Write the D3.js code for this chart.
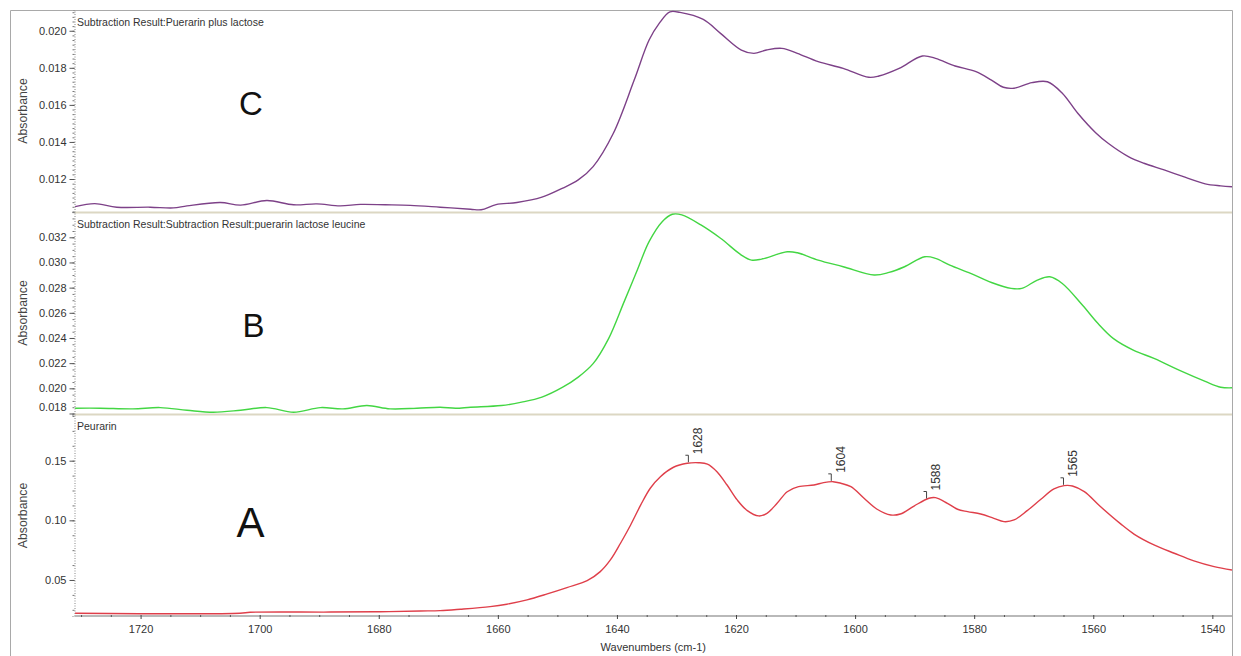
<!DOCTYPE html>
<html><head><meta charset="utf-8">
<script src="https://cdn.jsdelivr.net/npm/d3@7"></script>
<style>
body{margin:0;background:#fff;}
text{font-family:"Liberation Sans",Arial,Helvetica,sans-serif;}
</style>
</head><body>
<svg id="chart" width="1241" height="656"></svg>
<script>
// ---------- data ----------
const xTicks = [1720,1700,1680,1660,1640,1620,1600,1580,1560,1540];
const cTicks = [0.012,0.014,0.016,0.018,0.020];
const bTicks = [0.018,0.020,0.022,0.024,0.026,0.028,0.030,0.032];
const aTicks = [0.05,0.10,0.15];
const peakLabels = [1628,1604,1588,1565];

const cWave = [1731.0,1727.7,1724.0,1718.4,1714.5,1712.2,1706.6,1703.2,1698.8,1694.3,1690.4,1686.5,1683.1,1678.9,1674.7,1669.7,1664.6,1662.8,1660.3,1656.8,1652.6,1649.1,1646.5,1644.0,1640.6,1637.1,1634.6,1632.9,1631.1,1629.4,1625.5,1622.6,1619.1,1617.0,1614.9,1612.3,1609.7,1606.2,1602.0,1597.7,1596.0,1592.6,1588.7,1586.5,1583.2,1579.7,1577.1,1575.1,1573.3,1570.3,1567.7,1565.2,1562.6,1559.6,1557.5,1554.1,1551.5,1548.1,1544.6,1541.2,1538.6,1536.7];
const cAbs = [0.01051,0.01067,0.01048,0.01048,0.01044,0.01055,0.01073,0.01059,0.01084,0.01061,0.01066,0.01055,0.01063,0.01061,0.01058,0.01048,0.01037,0.01034,0.01062,0.01073,0.01102,0.01151,0.01195,0.01267,0.01447,0.01734,0.0195,0.0204,0.02102,0.02099,0.02061,0.01986,0.01896,0.01878,0.01896,0.01905,0.01878,0.01833,0.01797,0.01749,0.01756,0.01797,0.01864,0.01851,0.0181,0.01779,0.01734,0.01695,0.0169,0.0172,0.01725,0.01663,0.01555,0.0145,0.01393,0.01321,0.01285,0.01249,0.0121,0.01174,0.01163,0.01158];

const bWave = [1731.0,1726.8,1721.3,1716.7,1712.2,1707.8,1703.2,1698.8,1694.3,1689.8,1686.0,1682.0,1678.1,1673.6,1669.7,1667.1,1664.6,1659.4,1656.0,1652.6,1649.1,1646.5,1644.0,1641.4,1638.8,1636.7,1634.6,1632.4,1630.7,1629.1,1625.9,1622.6,1619.1,1617.4,1615.7,1611.4,1609.7,1606.2,1602.0,1596.8,1594.3,1591.7,1588.3,1586.5,1584.1,1580.6,1577.1,1573.8,1572.0,1569.4,1567.3,1565.2,1561.8,1559.2,1556.6,1553.2,1549.7,1545.5,1541.2,1538.6,1536.7];
const bAbs = [0.01842,0.01842,0.01837,0.01847,0.01826,0.0181,0.01826,0.01847,0.0181,0.01847,0.01837,0.01863,0.01837,0.01842,0.0185,0.01842,0.0185,0.01863,0.0189,0.0193,0.02009,0.02089,0.02196,0.02395,0.02687,0.02926,0.03165,0.03324,0.03383,0.03378,0.03298,0.03192,0.03059,0.03019,0.03027,0.03085,0.03077,0.03019,0.02966,0.029,0.02921,0.02966,0.03045,0.03033,0.02979,0.02913,0.02841,0.02794,0.02794,0.0286,0.02886,0.02833,0.0266,0.02515,0.02395,0.02302,0.02236,0.02142,0.02055,0.02009,0.02004];

const aWave = [1731.0,1703.3,1701.6,1688.1,1679.8,1673.0,1669.7,1666.3,1661.3,1658.5,1655.1,1651.7,1648.4,1645.0,1642.8,1641.1,1639.4,1637.7,1636.0,1634.4,1632.7,1630.5,1628.2,1626.3,1624.8,1623.2,1621.5,1619.8,1618.1,1616.2,1614.8,1613.1,1611.4,1609.5,1606.9,1605.3,1603.7,1602.4,1600.7,1598.5,1596.3,1594.0,1592.4,1590.1,1587.6,1586.5,1584.5,1582.8,1581.1,1578.9,1576.7,1575.0,1573.3,1571.1,1568.8,1566.6,1564.9,1563.5,1561.5,1558.9,1555.4,1553.1,1549.8,1546.4,1543.1,1539.7,1536.7];
const aAbs = [0.0221,0.0221,0.0229,0.0231,0.0234,0.0240,0.0243,0.0255,0.0277,0.0297,0.0333,0.0383,0.0436,0.0494,0.0570,0.0668,0.0808,0.0961,0.1129,0.1269,0.1366,0.1445,0.1478,0.1483,0.1472,0.1408,0.1296,0.1171,0.1081,0.1037,0.1059,0.1143,0.1240,0.1282,0.1296,0.1316,0.1324,0.1311,0.1282,0.1185,0.1093,0.1045,0.1053,0.1120,0.1185,0.1190,0.1143,0.1093,0.1073,0.1053,0.1017,0.0989,0.1003,0.1081,0.1177,0.1263,0.1291,0.1288,0.1240,0.1120,0.0970,0.0883,0.0794,0.0724,0.0660,0.0612,0.0584];

// ---------- layout ----------
const svg = d3.select("#chart");
svg.append("rect").attr("width",1241).attr("height",656).attr("fill","#fff");
const X0 = 74.5, X1 = 1232;
const x = d3.scaleLinear().domain([1731.1, 1536.7]).range([X0, X1]);

const panels = [
  {title:"Subtraction Result:Puerarin plus lactose", wave:cWave, abs:cAbs, color:"#7d4188",
   domain:[0.01022,0.02112], top:10, bottom:212, ticks:cTicks, fmt:d3.format(".3f"), minor:0.00025,
   titleY:26, letter:"C", lx:239, ly:115, ls:33},
  {title:"Subtraction Result:Subtraction Result:puerarin lactose leucine", wave:bWave, abs:bAbs, color:"#43d643",
   domain:[0.01796,0.03401], top:212, bottom:414, ticks:bTicks, fmt:d3.format(".3f"), minor:0.0005,
   titleY:228, letter:"B", lx:242.5, ly:336.7, ls:33},
  {title:"Peurarin", wave:aWave, abs:aAbs, color:"#df3f4a",
   domain:[0.0198,0.1883], top:415, bottom:616, ticks:aTicks, fmt:d3.format(".2f"), minor:0.0125,
   titleY:430, letter:"A", lx:236.5, ly:536.7, ls:42}
];

// frame
svg.append("path").attr("d",`M10.5,656 V10.5 H${X1+0.5} V656`)
  .attr("fill","none").attr("stroke","#a9a9a9").attr("stroke-width",1);

const defs = svg.append("defs");

panels.forEach((p,i)=>{
  const y = d3.scaleLinear().domain(p.domain).range([p.bottom, p.top]);
  p.y = y;
  const data = p.wave.map((w,k)=>({w, v:p.abs[k]})).filter(d=>d.v!==undefined);

  // separator line under panels C and B
  if (i < 2) {
    svg.append("line").attr("x1",X0).attr("x2",X1).attr("y1",p.bottom+0.5).attr("y2",p.bottom+0.5)
      .attr("stroke","#dcd7c3").attr("stroke-width",2);
  }

  // y axis (minor)
  const minorVals = d3.range(Math.ceil(p.domain[0]/p.minor)*p.minor, p.domain[1], p.minor);
  const gm = svg.append("g").attr("transform",`translate(${X0},0)`)
    .call(d3.axisLeft(y).tickValues(minorVals).tickSize(2).tickFormat(""));
  gm.select(".domain").attr("stroke","#888").attr("stroke-dasharray","1,1.5");
  gm.selectAll(".tick line").attr("stroke","#777");

  // y axis (major)
  const g = svg.append("g").attr("transform",`translate(${X0},0)`)
    .call(d3.axisLeft(y).tickValues(p.ticks).tickSize(5).tickPadding(3).tickFormat(p.fmt));
  g.select(".domain").remove();
  g.selectAll(".tick line").attr("stroke","#555");
  g.selectAll(".tick text").attr("font-size",11).attr("fill","#333")
    .attr("font-family","'Liberation Sans',Arial,sans-serif")
    .attr("dy", t => (y(t) > p.bottom - 7 ? (p.bottom - 6 - y(t)) + "px" : "0.32em"))
    .attr("dominant-baseline", t => (y(t) > p.bottom - 7 ? "middle" : null));

  // y title
  svg.append("text").attr("transform",`translate(27,${(p.top+p.bottom)/2}) rotate(-90)`)
    .attr("text-anchor","middle").attr("font-size",12.3).attr("fill","#444").text("Absorbance");

  // panel title
  svg.append("text").attr("x",77).attr("y",p.titleY).attr("font-size",10.5).attr("fill","#333").text(p.title);

  // big letter
  svg.append("text").attr("x",p.lx).attr("y",p.ly).attr("font-size",p.ls).attr("fill","#111").text(p.letter);

  // curve
  defs.append("clipPath").attr("id","clip"+i).append("rect")
    .attr("x",X0).attr("y",p.top).attr("width",X1-X0).attr("height",p.bottom-p.top);
  const line = d3.line().x(d=>x(d.w)).y(d=>y(d.v)).curve(d3.curveCatmullRom.alpha(0.5));
  svg.append("path").datum(data).attr("clip-path",`url(#clip${i})`)
    .attr("fill","none").attr("stroke",p.color).attr("stroke-width",1.4).attr("d",line);
});

// x axis
const xg = svg.append("g").attr("transform","translate(0,616)");
xg.append("line").attr("x1",X0).attr("x2",X1).attr("stroke","#b9b9b9").attr("stroke-width",2);
const xMinor = d3.range(1535, 1732, 5).filter(v=>v<=1731 && v>=1537 && v%20!==0);
const xgm = svg.append("g").attr("transform","translate(0,615)")
  .call(d3.axisBottom(x).tickValues(xMinor).tickSize(2).tickFormat(""));
xgm.select(".domain").remove();
xgm.selectAll(".tick line").attr("stroke","#555");
const xga = svg.append("g").attr("transform","translate(0,615)")
  .call(d3.axisBottom(x).tickValues(xTicks).tickSize(4).tickPadding(6).tickFormat(d3.format("d")));
xga.select(".domain").remove();
xga.selectAll(".tick line").attr("stroke","#444");
xga.selectAll(".tick text").attr("font-size",11).attr("fill","#333")
  .attr("font-family","'Liberation Sans',Arial,sans-serif");

svg.append("text").attr("x",(X0+X1)/2).attr("y",651).attr("text-anchor","middle")
  .attr("font-size",11).attr("fill","#333").text("Wavenumbers (cm-1)");

// peak labels on A
const pA = panels[2];
const interp = w => {
  for (let k=0;k<aWave.length-1;k++){
    if (aWave[k] >= w && aWave[k+1] <= w){
      const t = (aWave[k]-w)/(aWave[k]-aWave[k+1]);
      return aAbs[k] + t*(aAbs[k+1]-aAbs[k]);
    }
  }
  return aAbs[aAbs.length-1];
};
peakLabels.forEach(w=>{
  const px = x(w), py = pA.y(interp(w));
  const g = svg.append("g");
  g.append("line").attr("x1",px).attr("x2",px).attr("y1",py-1).attr("y2",py-8)
    .attr("stroke","#444").attr("stroke-width",1);
  g.append("line").attr("x1",px-3).attr("x2",px).attr("y1",py-8).attr("y2",py-8)
    .attr("stroke","#444").attr("stroke-width",1);
  g.append("text").attr("transform",`translate(${px+13.5},${py-9}) rotate(-90)`)
    .attr("font-size",12).attr("fill","#333").text(d3.format("d")(w));
});
</script>
</body></html>
